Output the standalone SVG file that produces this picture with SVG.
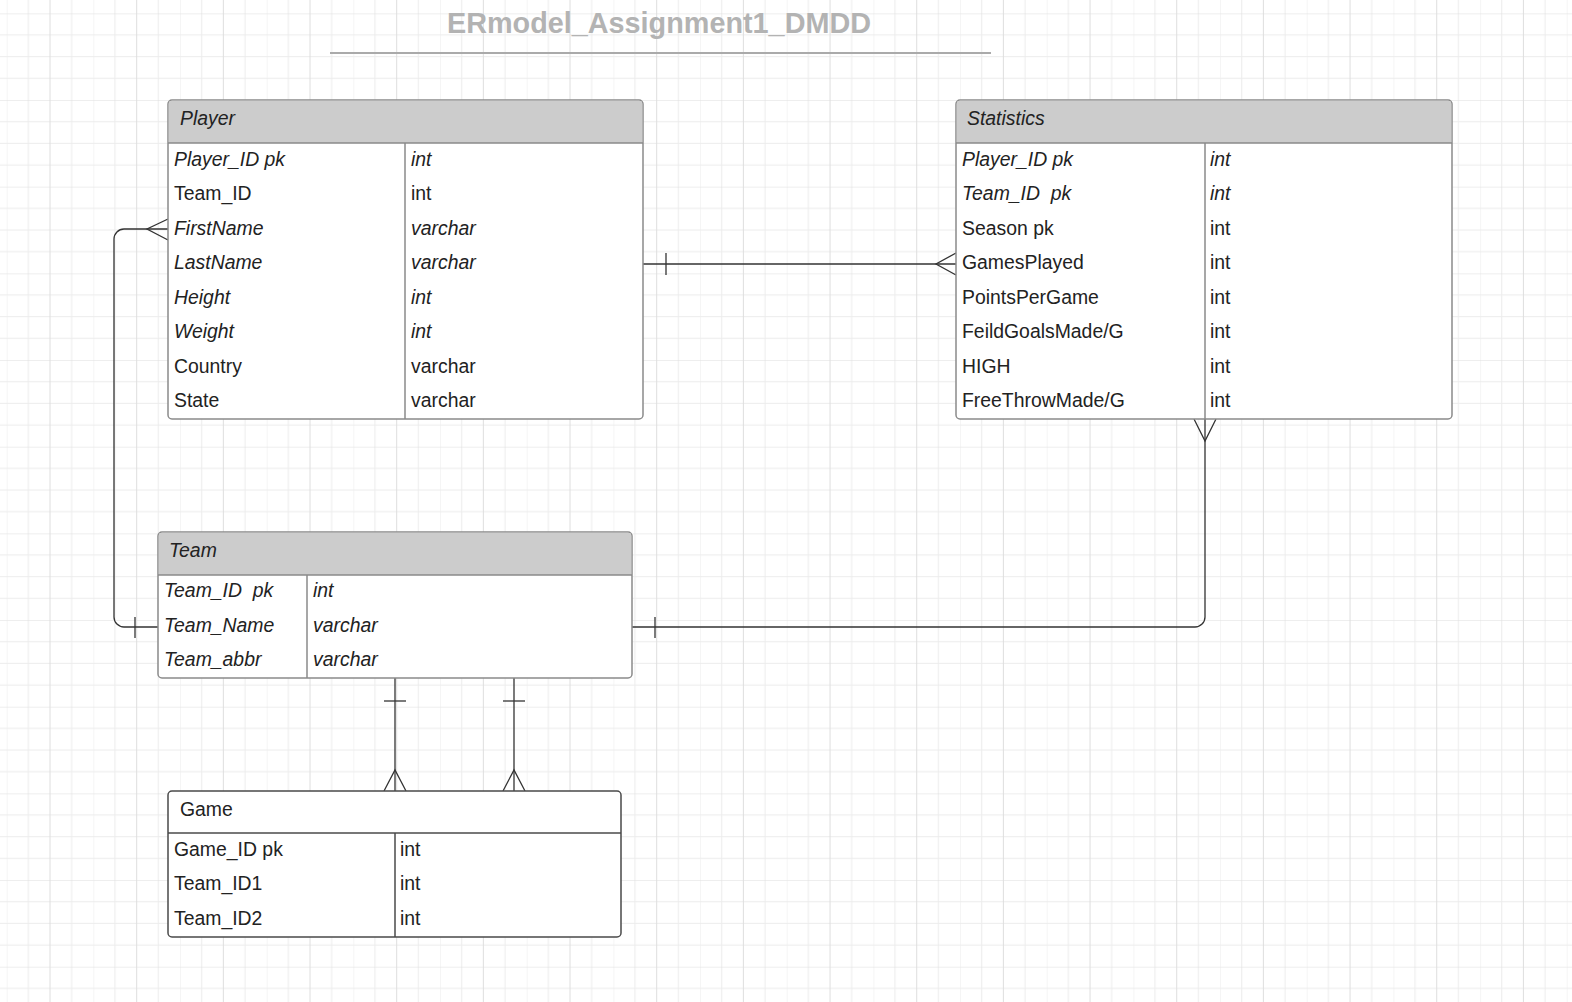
<svg xmlns="http://www.w3.org/2000/svg" width="1572" height="1002" viewBox="0 0 1572 1002">
<defs>
<pattern id="grid" patternUnits="userSpaceOnUse" x="6.67" y="13.33" width="86.67" height="86.67">
<path d="M0 0V86.67M21.67 0V86.67M65 0V86.67M0 21.67H86.67M0 43.33H86.67M0 65H86.67" stroke="#ececec" stroke-width="1" fill="none"/>
<path d="M43.33 0V86.67M0 0H86.67" stroke="#dedede" stroke-width="1" fill="none"/>
</pattern>
</defs>
<style>
.tbl{fill:#ffffff;stroke:#8a8a8a;stroke-width:1.5}
.hdr{fill:#cccccc}
.div{stroke:#8a8a8a;stroke-width:1.5}
.gtbl{fill:#ffffff;stroke:#4a4a4a;stroke-width:1.5}
.gdiv{stroke:#4a4a4a;stroke-width:1.5}
text{font-family:"Liberation Sans",Arial,sans-serif;font-size:19.4px;fill:#222}
.i{font-style:italic}
.title{font-size:28.8px;font-weight:bold;fill:#b3b3b3}
.con{fill:none;stroke:#333;stroke-width:1.3}
</style>
<rect width="1572" height="1002" fill="#ffffff"/>
<rect width="1572" height="1002" fill="url(#grid)"/>

<g id="title">
<text class="title" x="659" y="33" text-anchor="middle">ERmodel_Assignment1_DMDD</text>
<line x1="330" y1="53" x2="991" y2="53" stroke="#aaaaaa" stroke-width="2"/>
</g>

<g id="connectors">
<!-- Player - Team -->
<path class="con" d="M158 627H124A10 10 0 0 1 114 617V239A10 10 0 0 1 124 229H168"/>
<path class="con" d="M168 219L147 229L168 240"/>
<line class="con" x1="135" y1="617" x2="135" y2="638"/>
<!-- Player - Statistics -->
<line class="con" x1="643" y1="264" x2="956" y2="264"/>
<line class="con" x1="666" y1="253" x2="666" y2="275"/>
<path class="con" d="M956 253L936 264L956 275"/>
<!-- Statistics - Team -->
<path class="con" d="M1205 419V617A10 10 0 0 1 1195 627H632"/>
<path class="con" d="M1194 419L1205 441L1216 419"/>
<line class="con" x1="655" y1="617" x2="655" y2="638"/>
<!-- Team - Game (1) -->
<line class="con" x1="395" y1="678" x2="395" y2="791"/>
<line class="con" x1="384" y1="701" x2="406" y2="701"/>
<path class="con" d="M384 791L395 770L406 791"/>
<!-- Team - Game (2) -->
<line class="con" x1="514" y1="678" x2="514" y2="791"/>
<line class="con" x1="503" y1="701" x2="525" y2="701"/>
<path class="con" d="M503 791L514 770L525 791"/>
</g>

<g id="player">
<rect class="tbl" x="168" y="100" width="475" height="319" rx="4"/>
<path class="hdr" d="M172 100.75H639A3.25 3.25 0 0 1 642.25 104V143H168.75V104A3.25 3.25 0 0 1 172 100.75Z"/>
<line class="div" x1="168" y1="143" x2="643" y2="143"/>
<line class="div" x1="405" y1="143" x2="405" y2="419"/>
<text class="i" x="180" y="125">Player</text>
<text class="i" x="174" y="166">Player_ID pk</text><text class="i" x="411" y="166">int</text>
<text x="174" y="200">Team_ID</text><text x="411" y="200">int</text>
<text class="i" x="174" y="235">FirstName</text><text class="i" x="411" y="235">varchar</text>
<text class="i" x="174" y="269">LastName</text><text class="i" x="411" y="269">varchar</text>
<text class="i" x="174" y="304">Height</text><text class="i" x="411" y="304">int</text>
<text class="i" x="174" y="338">Weight</text><text class="i" x="411" y="338">int</text>
<text x="174" y="373">Country</text><text x="411" y="373">varchar</text>
<text x="174" y="407">State</text><text x="411" y="407">varchar</text>
</g>

<g id="statistics">
<rect class="tbl" x="956" y="100" width="496" height="319" rx="4"/>
<path class="hdr" d="M960 100.75H1448A3.25 3.25 0 0 1 1451.25 104V143H956.75V104A3.25 3.25 0 0 1 960 100.75Z"/>
<line class="div" x1="956" y1="143" x2="1452" y2="143"/>
<line class="div" x1="1205" y1="143" x2="1205" y2="419"/>
<text class="i" x="967" y="125">Statistics</text>
<text class="i" x="962" y="166">Player_ID pk</text><text class="i" x="1210" y="166">int</text>
<text class="i" x="962" y="200" xml:space="preserve">Team_ID  pk</text><text class="i" x="1210" y="200">int</text>
<text x="962" y="235">Season pk</text><text x="1210" y="235">int</text>
<text x="962" y="269">GamesPlayed</text><text x="1210" y="269">int</text>
<text x="962" y="304">PointsPerGame</text><text x="1210" y="304">int</text>
<text x="962" y="338">FeildGoalsMade/G</text><text x="1210" y="338">int</text>
<text x="962" y="373">HIGH</text><text x="1210" y="373">int</text>
<text x="962" y="407">FreeThrowMade/G</text><text x="1210" y="407">int</text>
</g>

<g id="team">
<rect class="tbl" x="158" y="532" width="474" height="146" rx="4"/>
<path class="hdr" d="M162 532.75H628A3.25 3.25 0 0 1 631.25 536V575H158.75V536A3.25 3.25 0 0 1 162 532.75Z"/>
<line class="div" x1="158" y1="575" x2="632" y2="575"/>
<line class="div" x1="307" y1="575" x2="307" y2="678"/>
<text class="i" x="169" y="557">Team</text>
<text class="i" x="164" y="597" xml:space="preserve">Team_ID  pk</text><text class="i" x="313" y="597">int</text>
<text class="i" x="164" y="632">Team_Name</text><text class="i" x="313" y="632">varchar</text>
<text class="i" x="164" y="666">Team_abbr</text><text class="i" x="313" y="666">varchar</text>
</g>

<g id="game">
<rect class="gtbl" x="168" y="791" width="453" height="146" rx="4"/>
<line class="gdiv" x1="168" y1="833" x2="621" y2="833"/>
<line class="gdiv" x1="395" y1="833" x2="395" y2="937"/>
<text x="180" y="816">Game</text>
<text x="174" y="856">Game_ID pk</text><text x="400" y="856">int</text>
<text x="174" y="890">Team_ID1</text><text x="400" y="890">int</text>
<text x="174" y="925">Team_ID2</text><text x="400" y="925">int</text>
</g>
</svg>
